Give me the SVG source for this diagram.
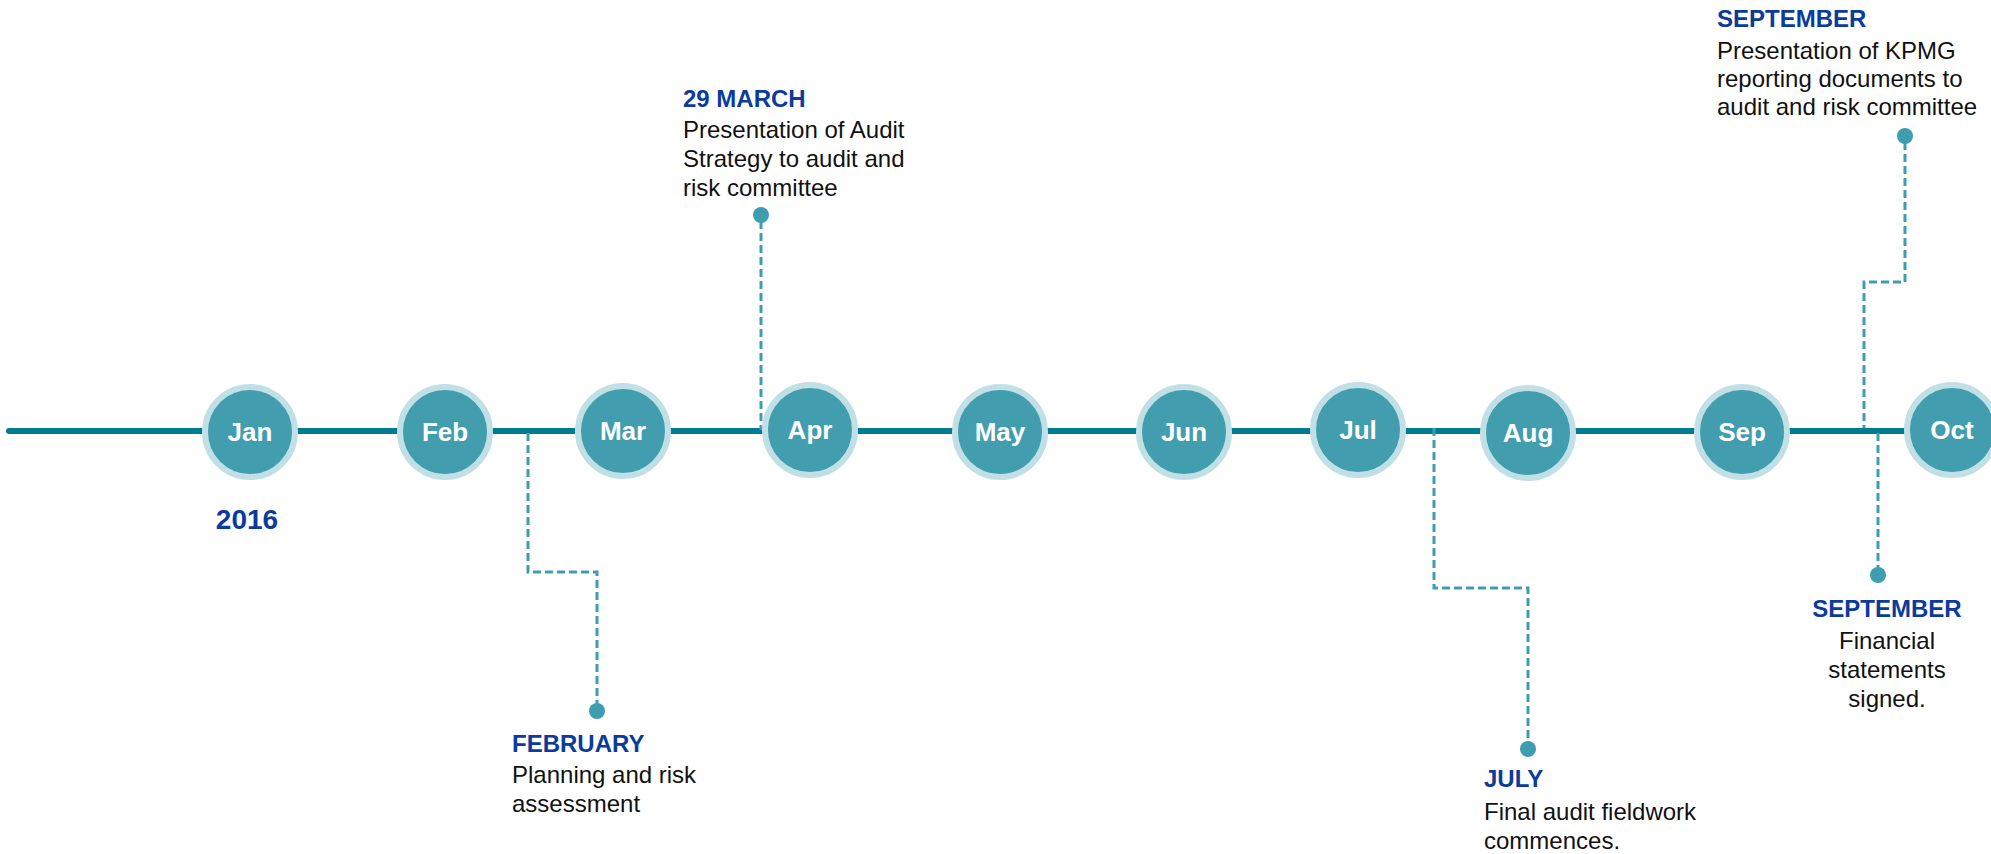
<svg xmlns="http://www.w3.org/2000/svg" width="1991" height="854" viewBox="0 0 1991 854">
<style>
.axis{stroke:#007b8f;stroke-width:6;stroke-linecap:round;fill:none}
.ring{fill:#429eae;stroke:#c1e0e6;stroke-width:6}
.mon{font-family:"Liberation Sans",Arial,sans-serif;font-weight:bold;font-size:26px;fill:#ffffff;text-anchor:middle}
.dash{stroke:#3e9dae;stroke-width:3;stroke-dasharray:8 4;fill:none}
.dot{fill:#3e9dae}
.ttl{font-family:"Liberation Sans",Arial,sans-serif;font-weight:bold;font-size:24px;fill:#0b3b9b}
.body{font-family:"Liberation Sans",Arial,sans-serif;font-size:24px;fill:#111111}
.year{font-family:"Liberation Sans",Arial,sans-serif;font-weight:bold;font-size:28px;fill:#0b3b9b;text-anchor:middle}
</style>
<g id="connectors">
<line class="axis" x1="9" y1="431" x2="1952" y2="431"/>
<path class="dash" d="M528,433 V572 H597 V705"/>
<path class="dash" d="M761,221 V430"/>
<path class="dash" d="M1434,428 V588 H1528 V743"/>
<path class="dash" d="M1905,142 V282 H1864 V428"/>
<path class="dash" d="M1878,433 V569"/>
<circle class="dot" cx="597" cy="711" r="8"/>
<circle class="dot" cx="761" cy="215" r="8"/>
<circle class="dot" cx="1528" cy="749" r="8"/>
<circle class="dot" cx="1905" cy="136" r="8"/>
<circle class="dot" cx="1878" cy="575" r="8"/>
</g>
<g id="jan"><circle class="ring" cx="250" cy="432" r="45"/><text class="mon" x="250" y="441">Jan</text></g>
<g id="feb"><circle class="ring" cx="445" cy="432" r="45"/><text class="mon" x="445" y="441">Feb</text></g>
<g id="mar"><circle class="ring" cx="623" cy="431" r="45"/><text class="mon" x="623" y="440">Mar</text></g>
<g id="apr"><circle class="ring" cx="810" cy="430" r="45"/><text class="mon" x="810" y="439">Apr</text></g>
<g id="may"><circle class="ring" cx="1000" cy="432" r="45"/><text class="mon" x="1000" y="441">May</text></g>
<g id="jun"><circle class="ring" cx="1184" cy="432" r="45"/><text class="mon" x="1184" y="441">Jun</text></g>
<g id="jul"><circle class="ring" cx="1358" cy="430" r="45"/><text class="mon" x="1358" y="439">Jul</text></g>
<g id="aug"><circle class="ring" cx="1528" cy="433" r="45"/><text class="mon" x="1528" y="442">Aug</text></g>
<g id="sep"><circle class="ring" cx="1742" cy="432" r="45"/><text class="mon" x="1742" y="441">Sep</text></g>
<g id="oct"><circle class="ring" cx="1952" cy="430" r="45"/><text class="mon" x="1952" y="439">Oct</text></g>
<g id="year"><text class="year" x="247" y="529">2016</text></g>
<g id="note-feb">
<text class="ttl" x="512" y="752">FEBRUARY</text>
<text class="body" x="512" y="783">Planning and risk</text>
<text class="body" x="512" y="812">assessment</text>
</g>
<g id="note-mar">
<text class="ttl" x="683" y="107">29 MARCH</text>
<text class="body" x="683" y="138">Presentation of Audit</text>
<text class="body" x="683" y="167">Strategy to audit and</text>
<text class="body" x="683" y="196">risk committee</text>
</g>
<g id="note-jul">
<text class="ttl" x="1484" y="787">JULY</text>
<text class="body" x="1484" y="820">Final audit fieldwork</text>
<text class="body" x="1484" y="849">commences.</text>
</g>
<g id="note-sep-top">
<text class="ttl" x="1717" y="27">SEPTEMBER</text>
<text class="body" x="1717" y="59">Presentation of KPMG</text>
<text class="body" x="1717" y="87">reporting documents to</text>
<text class="body" x="1717" y="115">audit and risk committee</text>
</g>
<g id="note-sep-bottom" text-anchor="middle">
<text class="ttl" x="1887" y="617">SEPTEMBER</text>
<text class="body" x="1887" y="649">Financial</text>
<text class="body" x="1887" y="678">statements</text>
<text class="body" x="1887" y="707">signed.</text>
</g>
</svg>
